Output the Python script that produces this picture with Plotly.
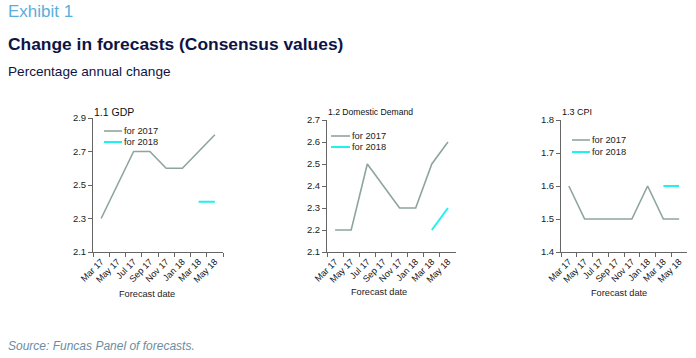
import plotly.graph_objects as go

W, H = 696, 358

dates = ["Mar 17", "May 17", "Jul 17", "Sep 17", "Nov 17", "Jan 18", "Mar 18", "May 18"]

gdp_2017 = [2.3, 2.5, 2.7, 2.7, 2.6, 2.6, 2.7, 2.8]
gdp_2018 = [None, None, None, None, None, None, 2.4, 2.4]

dd_2017 = [2.2, 2.2, 2.5, 2.4, 2.3, 2.3, 2.5, 2.6]
dd_2018 = [None, None, None, None, None, None, 2.2, 2.3]

cpi_2017 = [1.6, 1.5, 1.5, 1.5, 1.5, 1.6, 1.5, 1.5]
cpi_2018 = [None, None, None, None, None, None, 1.6, 1.6]

panel_titles = ["1.1 GDP", "1.2 Domestic Demand", "1.3 CPI"]
series_names = ["for 2017", "for 2018"]
y_ranges = [(2.1, 2.9, 0.2), (2.1, 2.7, 0.1), (1.4, 1.8, 0.1)]

C2017 = "#8ea59f"
C2018 = "#1ef2ee"
FONT = "Liberation Sans, Arial, sans-serif"

def px(x):
    return x / W

def py(y):
    return 1 - y / H

# panel geometry in pixels (left, right, top, bottom)
panels = [(93, 223, 118, 252), (327, 456, 120, 252), (561, 687, 120, 252)]
legend_pos = [(104, 122, 131, 142), (331, 350, 136, 147), (572, 590, 140, 152)]
title_sizes = [10.5, 8.6, 9]
xtitle_pos = [(147, 294), (379, 292), (619, 293)]

fig = go.Figure()

data = [(gdp_2017, gdp_2018), (dd_2017, dd_2018), (cpi_2017, cpi_2018)]
for i, (s17, s18) in enumerate(data):
    xa = "x" if i == 0 else f"x{i+1}"
    ya = "y" if i == 0 else f"y{i+1}"
    fig.add_trace(go.Scatter(x=dates, y=s17, mode="lines", name=series_names[0],
                             line=dict(color=C2017, width=1.6), xaxis=xa, yaxis=ya,
                             showlegend=False))
    fig.add_trace(go.Scatter(x=dates, y=s18, mode="lines", name=series_names[1],
                             line=dict(color=C2018, width=2), xaxis=xa, yaxis=ya,
                             showlegend=False, connectgaps=False))

layout = dict(
    width=W, height=H, autosize=False,
    margin=dict(l=0, r=0, t=0, b=0, pad=0),
    paper_bgcolor="white", plot_bgcolor="white",
    font=dict(family=FONT, size=9.5, color="#222"),
    showlegend=False,
)

annotations = []
shapes = []
for i, (l, r, t, b) in enumerate(panels):
    sx = "" if i == 0 else str(i + 1)
    lo, hi, dt = y_ranges[i]
    layout[f"xaxis{sx}"] = dict(
        domain=[px(l), px(r)], anchor=f"y{sx}", type="category",
        categoryorder="array", categoryarray=dates,
        range=[-0.5, 7.5], showgrid=False, zeroline=False,
        showline=True, linecolor="#666", linewidth=1,
        ticks="outside", ticklen=4, tickcolor="#666", tickson="boundaries",
        tickangle=-45, tickfont=dict(size=9, color="#111", family=FONT),
        automargin=False,
    )
    layout[f"yaxis{sx}"] = dict(
        domain=[py(b), py(t)], anchor=f"x{sx}",
        range=[lo, hi], dtick=dt, tick0=lo, tickformat=".1f",
        showgrid=False, zeroline=False,
        showline=True, linecolor="#666", linewidth=1,
        ticks="outside", ticklen=4, tickcolor="#666",
        tickfont=dict(size=9.5, color="#222", family=FONT),
        automargin=False,
    )
    annotations.append(dict(text=panel_titles[i], x=px(l - 1), y=py(112), xref="paper", yref="paper",
                            xanchor="left", yanchor="middle", showarrow=False,
                            font=dict(size=title_sizes[i], color="#111", family=FONT)))
    xt, yt = xtitle_pos[i]
    annotations.append(dict(text="Forecast date", x=px(xt), y=py(yt), xref="paper", yref="paper",
                            xanchor="center", yanchor="middle", showarrow=False,
                            font=dict(size=9.2, color="#222", family=FONT)))
    lx0, lx1, ly0, ly1 = legend_pos[i]
    for yy, col, nm in ((ly0, C2017, series_names[0]), (ly1, C2018, series_names[1])):
        shapes.append(dict(type="line", xref="paper", yref="paper",
                           x0=px(lx0), x1=px(lx1), y0=py(yy), y1=py(yy),
                           line=dict(color=col, width=2 if col == C2018 else 1.6)))
        annotations.append(dict(text=nm, x=px(lx1), y=py(yy), xref="paper", yref="paper",
                                xanchor="left", yanchor="middle", showarrow=False,
                                font=dict(size=9.3, color="#222", family=FONT)))

annotations.append(dict(text="Exhibit 1", x=px(6), y=py(12), xref="paper", yref="paper",
                        xanchor="left", yanchor="middle", showarrow=False,
                        font=dict(size=17, color="#5aaedb", family=FONT)))
annotations.append(dict(text="<b>Change in forecasts (Consensus values)</b>", x=px(6), y=py(44),
                        xref="paper", yref="paper", xanchor="left", yanchor="middle", showarrow=False,
                        font=dict(size=17.4, color="#0d1444", family=FONT)))
annotations.append(dict(text="Percentage annual change", x=px(6), y=py(71), xref="paper", yref="paper",
                        xanchor="left", yanchor="middle", showarrow=False,
                        font=dict(size=13.6, color="#0d1444", family=FONT)))
annotations.append(dict(text="<i>Source: Funcas Panel of forecasts.</i>", x=px(6), y=py(346),
                        xref="paper", yref="paper", xanchor="left", yanchor="middle", showarrow=False,
                        font=dict(size=12, color="#6b8ca0", family=FONT)))

layout["annotations"] = annotations
layout["shapes"] = shapes
fig.update_layout(**layout)

fig.write_html("out.html",
               config={"displayModeBar": False, "staticPlot": True},
               post_script="document.body.style.margin='0';document.body.style.overflow='hidden';")
